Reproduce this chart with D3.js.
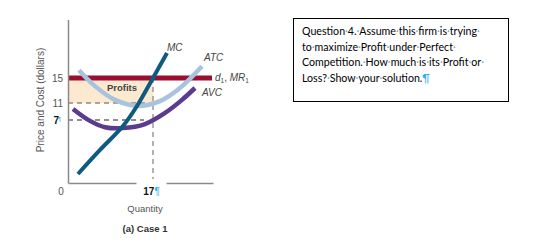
<!DOCTYPE html>
<html>
<head>
<meta charset="utf-8">
<script src="https://cdn.jsdelivr.net/npm/d3@7"></script>
<style>
  body { margin: 0; background: #fff; }
  svg { display: block; font-family: "Liberation Sans", Arial, sans-serif; }
</style>
</head>
<body>
<svg id="graph" width="535" height="244"></svg>
<script>
// quantity / price pairs
var mcQ  = [2, 6.4, 11, 13.8, 17, 19.8];
var mcP  = [1.0, 3.67, 6.33, 10.3, 15, 18.85];
var atcQ = [2.2, 5.4, 9.4, 14, 18.4, 22.4, 26.8];
var atcP = [16.2, 13.7, 11.5, 10.3, 11.3, 13.4, 16.8];
var avcQ = [1, 4.4, 7.4, 11, 15.4, 19.4, 22.8, 25.4];
var avcP = [9.6, 6.9, 6.2, 6.1, 6.55, 8.65, 11.5, 13.4];

var price = 15;      // d1, MR1
var atcAtQ = 11;     // ATC at chosen output
var avcAtQ = 7;      // AVC at chosen output
var qStar = 17;
var yTicks = [15, 11, 7];
var xTicks = [17];

var questionLines = [
    "Question 4. Assume this firm is trying ",
    "to maximize Profit under Perfect ",
    "Competition. How much is its Profit or ",
    "Loss? Show your solution."
];
var lineWidths = [185, 165, 192, 128];

var dimensions = {
    width: 535,
    height: 244,
    margin: { top: 19.5, bottom: 61, left: 68, right: 322 }
}

var svg = d3.select("#graph")

var xScale = d3.scaleLinear()
               .domain([0, 29])
               .range([dimensions.margin.left, dimensions.width - dimensions.margin.right])

// the printed axis is not evenly spaced, so the scale is piecewise
var yScale = d3.scaleLinear()
               .domain([0, 7, 11, 15, 24])
               .range([183, 120, 103, 78, dimensions.margin.top])

function pts(qs, ps){
    return qs.map(function(q, i){ return [q, ps[i]] });
}

var line = d3.line()
             .x(function(d){ return xScale(d[0]) })
             .y(function(d){ return yScale(d[1]) })
             .curve(d3.curveCatmullRom.alpha(0.5))

// profits area
svg.append("rect")
   .attr("x", xScale(0))
   .attr("y", yScale(price))
   .attr("width", xScale(qStar) - xScale(0))
   .attr("height", yScale(atcAtQ) - yScale(price))
   .style("fill", "#fde9cf")

// dashed guides
svg.append("line")
   .attr("x1", xScale(0)).attr("x2", xScale(qStar))
   .attr("y1", yScale(atcAtQ)).attr("y2", yScale(atcAtQ))
   .style("stroke", "#8a8a8a").style("stroke-width", 1.3).style("stroke-dasharray", "5,4")

svg.append("line")
   .attr("x1", xScale(0)).attr("x2", xScale(qStar) - 9)
   .attr("y1", yScale(avcAtQ)).attr("y2", yScale(avcAtQ))
   .style("stroke", "#222").style("stroke-width", 1.1).style("stroke-dasharray", "5,4")

svg.append("line")
   .attr("x1", xScale(qStar)).attr("x2", xScale(qStar))
   .attr("y1", yScale(price)).attr("y2", yScale(0))
   .style("stroke", "#8a8a8a").style("stroke-width", 1.3).style("stroke-dasharray", "5,4")

// demand / MR line
svg.append("line")
   .attr("x1", xScale(0)).attr("x2", xScale(28.8))
   .attr("y1", yScale(price)).attr("y2", yScale(price))
   .style("stroke", "#9b0e32").style("stroke-width", 5)

svg.append("path")
   .attr("d", line(pts(avcQ, avcP)))
   .style("fill", "none").style("stroke", "#5a3b8f").style("stroke-width", 4.5)

svg.append("path")
   .attr("d", line(pts(atcQ, atcP)))
   .style("fill", "none").style("stroke", "#a8c3dd").style("stroke-width", 4.5)

svg.append("path")
   .attr("d", line(pts(mcQ, mcP)))
   .style("fill", "none").style("stroke", "#0e5a80").style("stroke-width", 4)

// axes
var xAxisGen = d3.axisBottom().scale(xScale).tickValues(xTicks).tickSize(0).tickSizeOuter(0).tickPadding(5)
var xAxis = svg.append("g")
               .call(xAxisGen)
               .attr("transform", "translate(0," + yScale(0) + ")")
xAxis.select(".domain").style("stroke", "#8a8a8a").style("stroke-width", 1.5)
xAxis.selectAll(".tick").insert("rect", "text")
     .attr("x", -17).attr("y", -4).attr("width", 30).attr("height", 12)
     .style("fill", "#fff")
xAxis.selectAll(".tick text")
     .style("font-size", "10px").style("font-weight", "bold").style("fill", "#111")
     .attr("dx", "-2")
     .append("tspan").style("fill", "#29aef0").style("font-weight", "normal").text("¶")

var yAxisGen = d3.axisLeft().scale(yScale).tickValues(yTicks).tickSize(0).tickSizeOuter(0).tickPadding(5)
var yAxis = svg.append("g")
               .call(yAxisGen)
               .attr("transform", "translate(" + xScale(0) + ",0)")
yAxis.select(".domain").style("stroke", "#8a8a8a").style("stroke-width", 1.5)
yAxis.selectAll(".tick text").style("font-size", "10px").style("fill", "#555")
yAxis.selectAll(".tick text")
     .filter(function(d){ return d === avcAtQ })
     .style("font-weight", "bold").style("fill", "#111")
     .attr("dx", "-4")
yAxis.selectAll(".tick")
     .filter(function(d){ return d === avcAtQ })
     .append("text")
     .attr("x", -7).attr("dy", "0.1em")
     .style("font-size", "6px").style("fill", "#29aef0")
     .text("¶")

svg.append("text")
   .attr("x", xScale(0) - 7)
   .attr("y", 195)
   .attr("text-anchor", "middle")
   .style("font-size", "10px").style("fill", "#555")
   .text("0")

svg.append("text")
   .attr("x", 145).attr("y", 212)
   .attr("text-anchor", "middle")
   .style("font-size", "9.5px").style("fill", "#555")
   .text("Quantity")

svg.append("text")
   .attr("x", 145).attr("y", 232)
   .attr("text-anchor", "middle")
   .style("font-size", "9.5px").style("font-weight", "bold").style("fill", "#333")
   .text("(a) Case 1")

svg.append("text")
   .attr("transform", "rotate(-90)")
   .attr("x", -100)
   .attr("y", 44)
   .attr("text-anchor", "middle")
   .style("font-size", "10px").style("fill", "#555")
   .text("Price and Cost (dollars)")

// curve labels
function curveLabel(x, y, txt){
    return svg.append("text")
              .attr("x", x).attr("y", y)
              .style("font-size", "10px").style("font-style", "italic").style("fill", "#444")
              .text(txt)
}
curveLabel(167, 51, "MC")
curveLabel(204, 61, "ATC")
curveLabel(202, 96, "AVC")
var dl = curveLabel(215, 81, "d")
dl.append("tspan").attr("dy", 2).style("font-size", "6.5px").style("font-style", "normal").text("1")
dl.append("tspan").attr("dy", -2).style("font-style", "normal").text(", ")
dl.append("tspan").text("MR")
dl.append("tspan").attr("dy", 2).style("font-size", "6.5px").style("font-style", "normal").text("1")

svg.append("text")
   .attr("x", 122).attr("y", 90.5)
   .attr("text-anchor", "middle")
   .style("font-size", "9.5px").style("font-weight", "bold").style("fill", "#444")
   .text("Profits")

// question box
svg.append("rect")
   .attr("x", 293.5).attr("y", 18.5)
   .attr("width", 215).attr("height", 83)
   .style("fill", "none").style("stroke", "#000").style("stroke-width", 1)

var qTexts = [];
questionLines.forEach(function(l, i){
    var t = svg.append("text")
               .attr("x", 302)
               .attr("y", 35 + i * 15.6)
               .style("font-family", "Lato, 'Noto Sans', sans-serif")
               .style("font-size", "12px")
               .style("fill", "#000")
    var words = l.split(" ");
    words.forEach(function(w, j){
        if (w.length) t.append("tspan").text(w);
        if (j < words.length - 1) t.append("tspan").style("fill", "#6fa8d6").text("·");
    });
    if (i === questionLines.length - 1) {
        t.append("tspan").style("fill", "#29aef0").text("¶");
    }
    qTexts.push(t);
});

// shrink the font so the widest line fits its measured width
var fit = d3.min(qTexts, function(t, i){
    return lineWidths[i] / t.node().getComputedTextLength();
});
qTexts.forEach(function(t){ t.style("font-size", (12 * fit) + "px") });
</script>
</body>
</html>
